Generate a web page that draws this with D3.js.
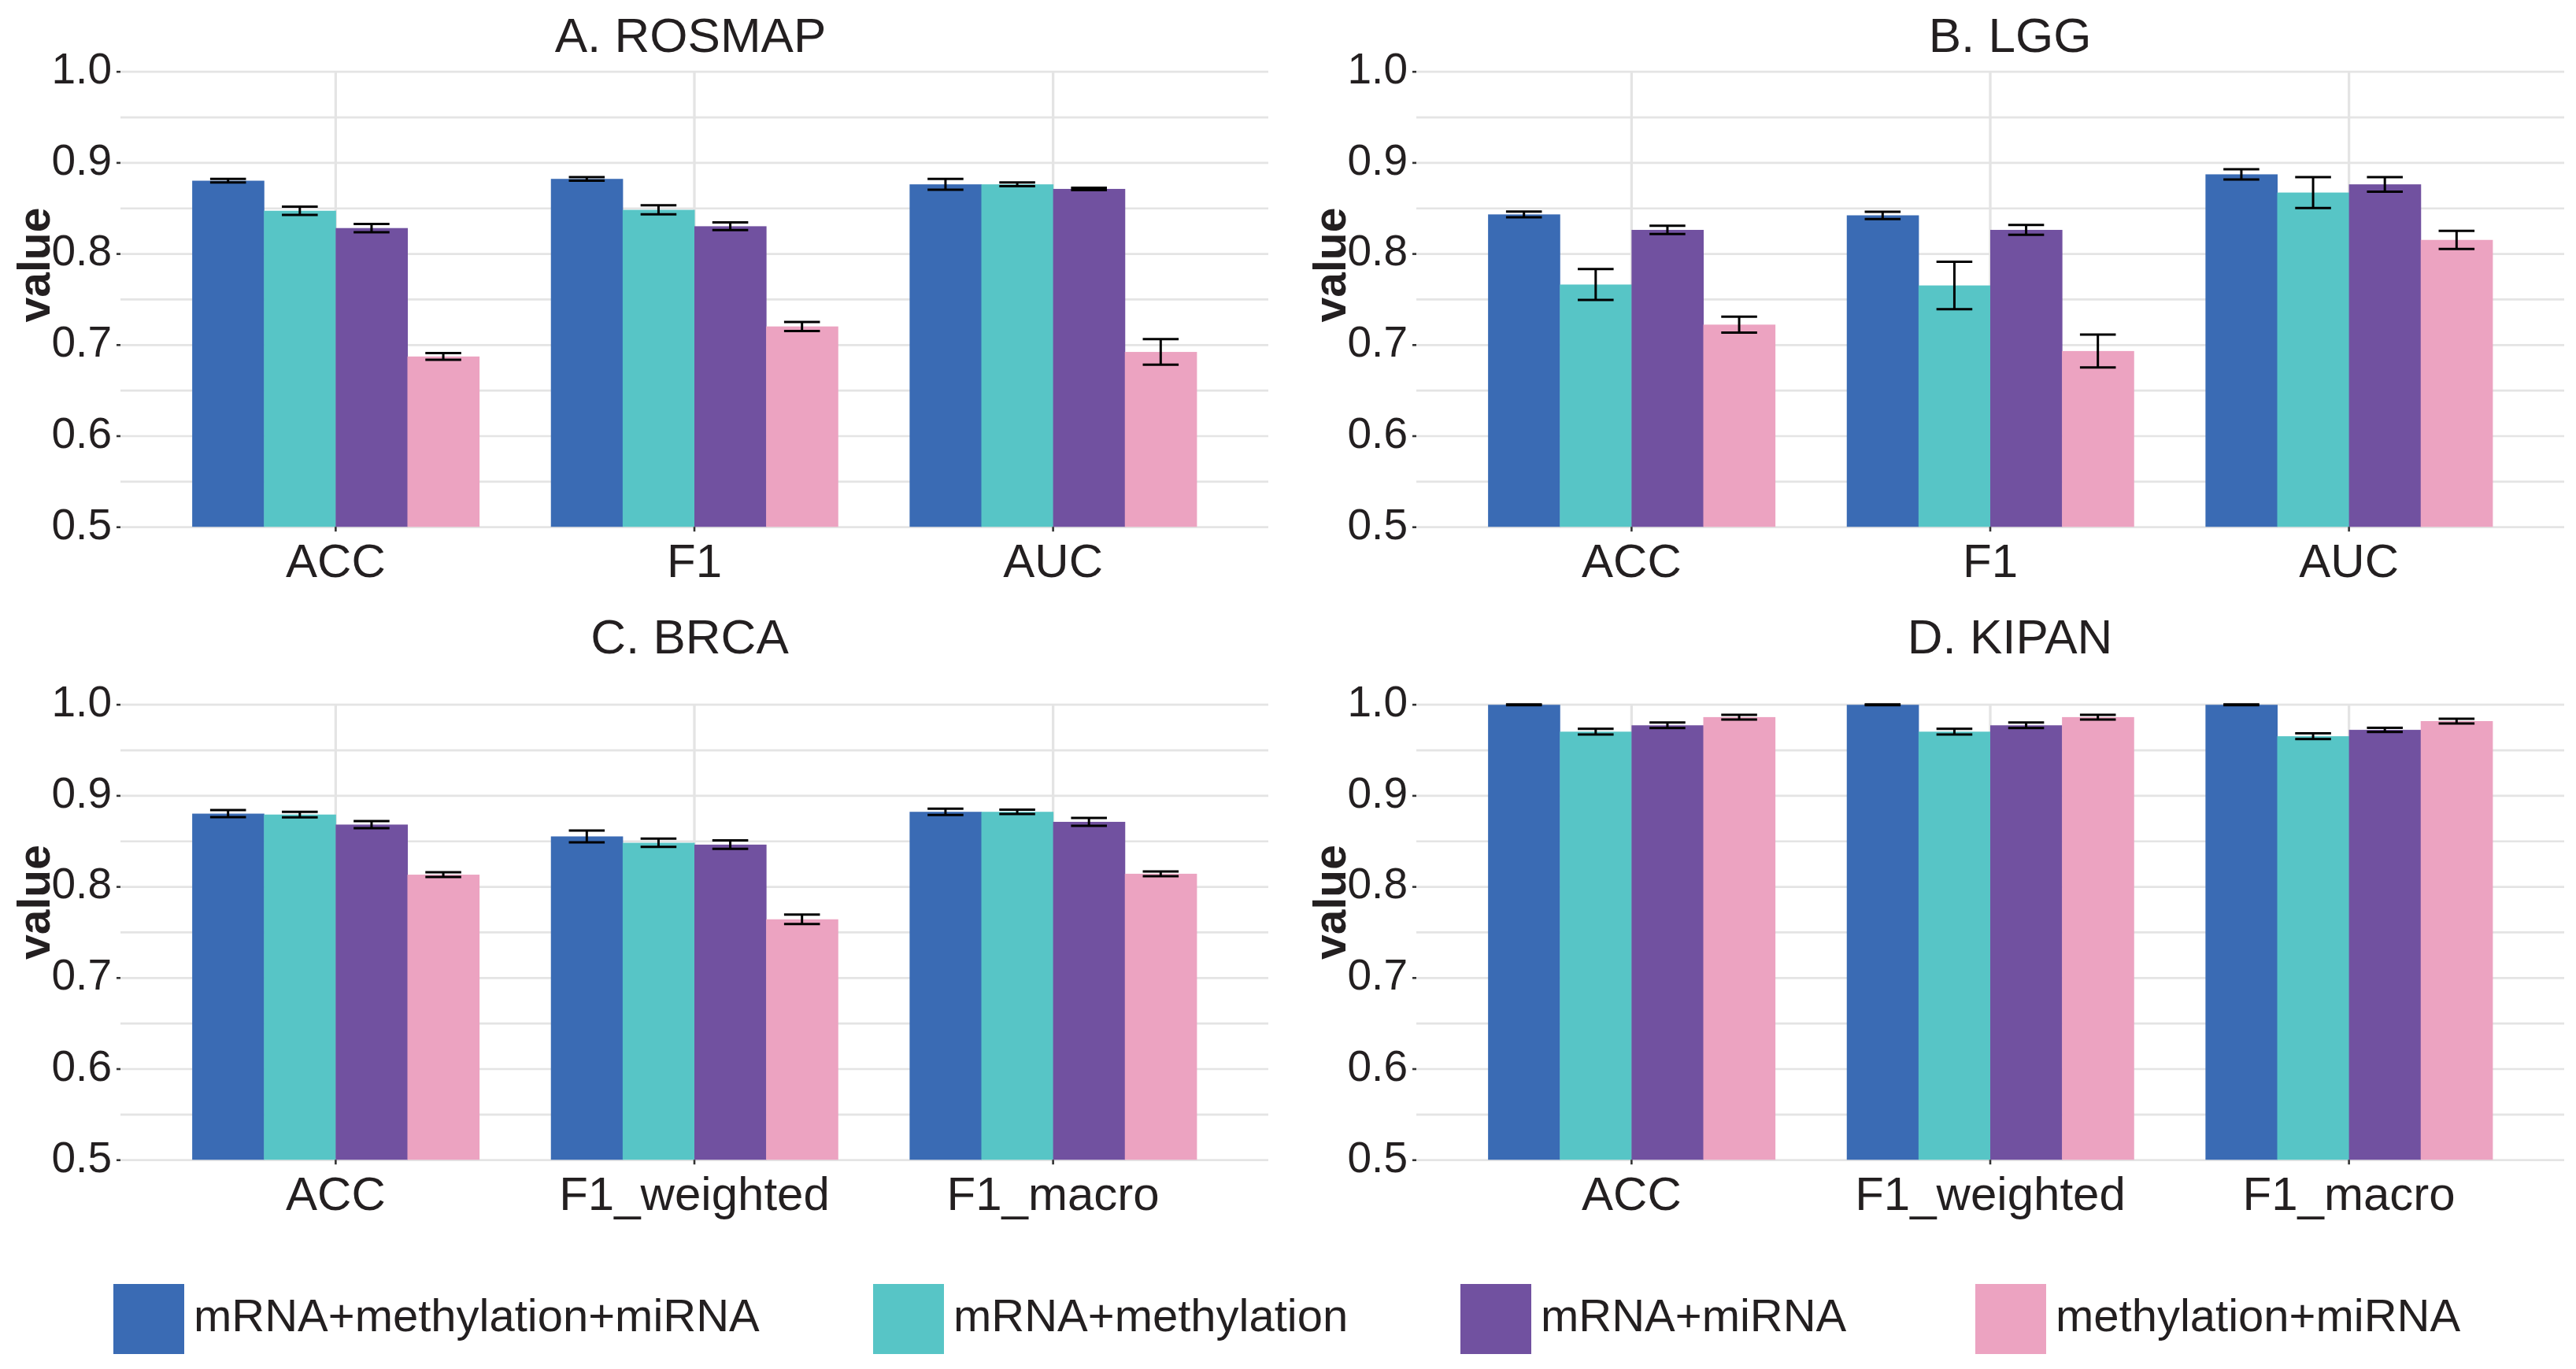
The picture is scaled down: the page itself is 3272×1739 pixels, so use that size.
<!DOCTYPE html>
<html>
<head>
<meta charset="utf-8">
<script src="https://cdn.jsdelivr.net/npm/d3@7"></script>
<style>
  body { margin: 0; background: #fff; }
  svg { display: block; font-family: "Liberation Sans", Arial, sans-serif; }
  .grid line { stroke: #e4e4e4; stroke-width: 2.7; }
  .grid.x-grid line { stroke-width: 3.3; }
  .axis line { stroke: #333; stroke-width: 2.6; }
  .axis text { fill: #231f20; }
</style>
</head>
<body>
<div id="chart"></div>
<script>
// series names and colours
const groups = ["mRNA+methylation+miRNA", "mRNA+methylation", "mRNA+miRNA", "methylation+miRNA"];
const groupColors = ["#3a6bb4", "#57c5c6", "#7151a0", "#eca3c1"];

const yTicks = [0.5, 0.6, 0.7, 0.8, 0.9, 1.0];
const yGridTicks = [0.5, 0.55, 0.6, 0.65, 0.7, 0.75, 0.8, 0.85, 0.9, 0.95, 1.0];

// A. ROSMAP  (one row per metric, one value per group)
const rosmapMetrics = ["ACC", "F1", "AUC"];
const rosmapMean = [[0.880, 0.847, 0.828, 0.687], [0.882, 0.848, 0.830, 0.720], [0.876, 0.876, 0.871, 0.692]];
const rosmapErr  = [[0.002, 0.0045, 0.0045, 0.0037], [0.002, 0.005, 0.0043, 0.005], [0.006, 0.002, 0.0013, 0.014]];

// B. LGG
const lggMetrics = ["ACC", "F1", "AUC"];
const lggMean = [[0.843, 0.766, 0.826, 0.722], [0.842, 0.765, 0.826, 0.693], [0.887, 0.867, 0.876, 0.815]];
const lggErr  = [[0.0032, 0.017, 0.0045, 0.0088], [0.004, 0.026, 0.0054, 0.018], [0.0056, 0.017, 0.008, 0.010]];

// C. BRCA
const brcaMetrics = ["ACC", "F1_weighted", "F1_macro"];
const brcaMean = [[0.880, 0.879, 0.868, 0.813], [0.855, 0.848, 0.846, 0.764], [0.882, 0.882, 0.871, 0.814]];
const brcaErr  = [[0.0039, 0.003, 0.0039, 0.0026], [0.0065, 0.0045, 0.0047, 0.0052], [0.0034, 0.0024, 0.0043, 0.0026]];

// D. KIPAN
const kipanMetrics = ["ACC", "F1_weighted", "F1_macro"];
const kipanMean = [[0.9995, 0.970, 0.977, 0.986], [0.9995, 0.970, 0.977, 0.986], [0.9995, 0.965, 0.972, 0.9816]];
const kipanErr  = [[0.0005, 0.0032, 0.003, 0.0026], [0.0005, 0.0032, 0.003, 0.0026], [0.0005, 0.0031, 0.0022, 0.0026]];

const svg = d3.select('#chart').append('svg')
    .attr('width', 3272)
    .attr('height', 1739);

class BarPanel {

  constructor(_config, _metrics, _mean, _err) {
    this.config = _config;
    this.data = [];
    _metrics.forEach((m, i) => {
      groups.forEach((g, j) => {
        this.data.push({metric: m, group: g, value: _mean[i][j], err: _err[i][j]});
      });
    });
    this.metrics = _metrics;
    this.initVis();
  }

  initVis() {
    let vis = this;
    const c = vis.config;

    vis.width = c.right - c.left;
    vis.height = c.bottom - c.top;

    // discrete x with 0.6 units expansion on each side, bars take 0.8 of a unit
    vis.x0 = d3.scaleBand()
        .domain(vis.metrics)
        .range([c.left, c.right])
        .paddingInner(0)
        .paddingOuter(0.1);

    vis.x1 = d3.scaleBand()
        .domain(groups)
        .range([0, vis.x0.bandwidth()])
        .paddingOuter(0.5);

    vis.y = d3.scaleLinear()
        .domain([0.5, 1.0])
        .range([c.bottom, c.top]);

    vis.color = d3.scaleOrdinal().domain(groups).range(groupColors);

    vis.g = svg.append('g');

    // gridlines
    vis.g.append('g')
        .attr('class', 'grid y-grid')
        .attr('transform', `translate(${c.left},0)`)
        .call(d3.axisLeft(vis.y).tickValues(yGridTicks).tickSize(-vis.width).tickFormat(''))
        .call(g => g.select('.domain').remove());

    vis.g.append('g')
        .attr('class', 'grid x-grid')
        .attr('transform', `translate(0,${c.bottom})`)
        .call(d3.axisBottom(vis.x0).tickSize(-vis.height).tickFormat(''))
        .call(g => g.select('.domain').remove());

    vis.renderVis();
  }

  renderVis() {
    let vis = this;
    const c = vis.config;
    const bw = vis.x1.bandwidth();
    const xPos = d => vis.x0(d.metric) + vis.x1(d.group);

    vis.g.append('g').selectAll('rect')
        .data(vis.data)
        .join('rect')
        .attr('x', xPos)
        .attr('width', bw + 0.5)
        .attr('y', d => vis.y(d.value))
        .attr('height', d => vis.y(0.5) - vis.y(d.value))
        .attr('fill', d => vis.color(d.group));

    // error bars, cap width half of the bar
    const eb = vis.g.append('g')
        .attr('stroke', '#000')
        .attr('stroke-width', 3)
        .selectAll('g')
        .data(vis.data)
        .join('g');

    eb.append('line')
        .attr('x1', d => xPos(d) + bw / 2)
        .attr('x2', d => xPos(d) + bw / 2)
        .attr('y1', d => vis.y(d.value - d.err))
        .attr('y2', d => vis.y(d.value + d.err));

    [-1, 1].forEach(s => {
      eb.append('line')
          .attr('x1', d => xPos(d) + bw / 4)
          .attr('x2', d => xPos(d) + bw * 3 / 4)
          .attr('y1', d => vis.y(d.value + s * d.err))
          .attr('y2', d => vis.y(d.value + s * d.err));
    });

    // axes
    vis.g.append('g')
        .attr('class', 'axis y-axis')
        .attr('transform', `translate(${c.left},0)`)
        .call(d3.axisLeft(vis.y).tickValues(yTicks).tickSize(5).tickPadding(6).tickFormat(d3.format('.1f')))
        .call(g => g.select('.domain').remove())
        .call(g => g.selectAll('text')
            .attr('dy', '0.27em')
            .style('font-size', '55px'));

    vis.g.append('g')
        .attr('class', 'axis x-axis')
        .attr('transform', `translate(0,${c.bottom})`)
        .call(d3.axisBottom(vis.x0).tickSize(6).tickPadding(15))
        .call(g => g.select('.domain').remove())
        .call(g => g.selectAll('text')
            .attr('dy', '0.71em')
            .style('font-size', '60px'));

    // titles
    vis.g.append('text')
        .attr('x', c.titleX)
        .attr('y', c.titleY)
        .attr('text-anchor', 'middle')
        .attr('fill', '#231f20')
        .style('font-size', '62px')
        .text(c.title);

    vis.g.append('text')
        .attr('transform', `translate(${c.left - 90},${c.valueY}) rotate(-90)`)
        .attr('text-anchor', 'middle')
        .attr('fill', '#231f20')
        .style('font-size', '57px')
        .style('font-weight', 'bold')
        .text('value');
  }
}

new BarPanel({title: 'A. ROSMAP', left: 153, right: 1611, top: 90.7, bottom: 669.2, titleX: 877, titleY: 66, valueY: 336.5},
    rosmapMetrics, rosmapMean, rosmapErr);
new BarPanel({title: 'B. LGG', left: 1799, right: 3257, top: 90.7, bottom: 669.2, titleX: 2553, titleY: 66, valueY: 336.5},
    lggMetrics, lggMean, lggErr);
new BarPanel({title: 'C. BRCA', left: 153, right: 1611, top: 894.7, bottom: 1473.2, titleX: 876, titleY: 830, valueY: 1146},
    brcaMetrics, brcaMean, brcaErr);
new BarPanel({title: 'D. KIPAN', left: 1799, right: 3257, top: 894.7, bottom: 1473.2, titleX: 2553, titleY: 830, valueY: 1146},
    kipanMetrics, kipanMean, kipanErr);

// legend along the bottom
const legendX = [144, 1109, 1855, 2509];
const legend = svg.append('g').attr('class', 'legend');
const item = legend.selectAll('g')
    .data(groups)
    .join('g')
    .attr('transform', (d, i) => `translate(${legendX[i]},1631)`);

item.append('rect')
    .attr('width', 90)
    .attr('height', 89)
    .attr('fill', (d, i) => groupColors[i]);

item.append('text')
    .attr('x', 102)
    .attr('y', 60)
    .attr('fill', '#231f20')
    .style('font-size', '58px')
    .text(d => d);
</script>
</body>
</html>
